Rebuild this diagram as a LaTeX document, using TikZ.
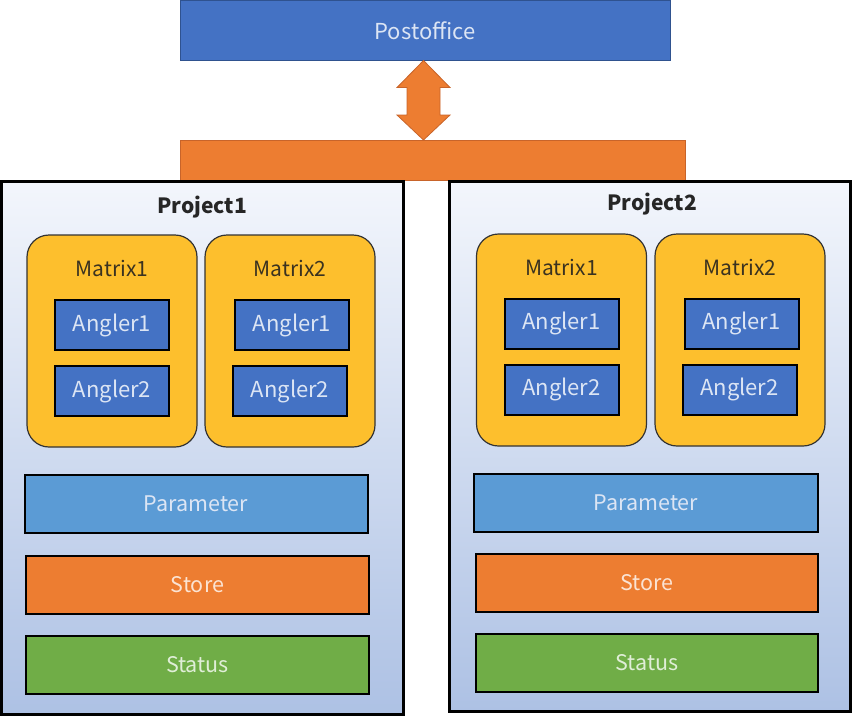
\documentclass[tikz,border=0pt]{standalone}
\usepackage{fontspec}
\setmainfont{Noto Sans CJK SC}
\usetikzlibrary{calc}
\definecolor{poblue}{HTML}{4472C4}
\definecolor{poborder}{HTML}{2F528F}
\definecolor{orng}{HTML}{ED7D31}
\definecolor{orngdark}{HTML}{C8642A}
\definecolor{gold}{HTML}{FDBF2D}
\definecolor{parblue}{HTML}{5B9BD5}
\definecolor{grn}{HTML}{70AD47}
\definecolor{projtop}{HTML}{F3F6FC}
\definecolor{projmid}{HTML}{C6D4EC}
\definecolor{projbot}{HTML}{ADC1E4}
\definecolor{txtblue}{HTML}{DCE5F4}
\definecolor{txtorng}{HTML}{FBE3D3}
\definecolor{txtgrn}{HTML}{E0EED7}
\definecolor{mattxt}{HTML}{3A3220}
\tikzset{
  every node/.style={inner sep=0pt, outer sep=0pt, font=\fontsize{21.5}{24}\selectfont},
  project/.style={draw=black, line width=3pt, top color=projtop, middle color=projmid, bottom color=projbot, anchor=north west},
  matrixbox/.style={draw=black!80, line width=1.2pt, fill=gold, rounded corners=22pt, minimum width=170pt, minimum height=212pt},
  anglerbox/.style={draw=black, line width=2pt, fill=poblue, text=txtblue, minimum width=114pt, minimum height=50pt, font=\fontsize{22}{24}\selectfont},
  layerbox/.style={draw=black, line width=2pt, minimum width=343pt, minimum height=58pt},
  mlabel/.style={text=mattxt, font=\fontsize{21}{24}\selectfont},
  ptitle/.style={font=\fontsize{21}{24}\selectfont\bfseries, text=black!85}
}
\begin{document}
\begin{tikzpicture}[x=1pt, y=-1pt]
\useasboundingbox (0,0) rectangle (856,718);

% Postoffice and bar
\node[draw=poborder, line width=1pt, fill=poblue, text=txtblue, minimum width=490pt, minimum height=60pt, font=\fontsize{22}{24}\selectfont] (post) at (425,30.5) {Postoffice};
\node[draw=orngdark, line width=1pt, fill=orng, minimum width=505pt, minimum height=40pt] (bar) at (432.5,160) {};

% double arrow between post and bar
\coordinate (at) at (post.south -| 423.5,0);
\coordinate (ab) at (bar.north -| 423.5,0);
\draw[draw=orngdark, line width=0.8pt, fill=orng]
  (at) -- ($(at)+(26.5,27)$) -- ($(at)+(16.5,27)$) -- ($(ab)+(16.5,-25)$) -- ($(ab)+(26.5,-25)$) -- (ab)
  -- ($(ab)+(-26.5,-25)$) -- ($(ab)+(-16.5,-25)$) -- ($(at)+(-16.5,27)$) -- ($(at)+(-26.5,27)$) -- cycle;

% Project 1
\node[project, minimum width=402pt, minimum height=533pt] (p1) at (1.5,181.5) {};
\node[ptitle] (p1t) at (202,207) {Project1};
\node[matrixbox] (p1m1) at (112,341) {};
\node[mlabel] (p1m1t) at (112,268) {Matrix1};
\node[anglerbox] (p1m1a1) at (112,325) {Angler1};
\node[anglerbox] (p1m1a2) at (112,391) {Angler2};
\node[matrixbox] (p1m2) at (290,341) {};
\node[mlabel] (p1m2t) at (290,268) {Matrix2};
\node[anglerbox] (p1m2a1) at (292,325) {Angler1};
\node[anglerbox] (p1m2a2) at (290,391) {Angler2};
\node[layerbox, fill=parblue, text=txtblue] (p1par) at (196,503.5) {Parameter};
\node[layerbox, fill=orng, text=txtorng] (p1sto) at (197.5,584.5) {Store};
\node[layerbox, fill=grn, text=txtgrn] (p1sta) at (197.5,665) {Status};

% Project 2
\node[project, minimum width=401pt, minimum height=530pt] (p2) at (449.5,181.5) {};
\node[ptitle] (p2t) at (652,204) {Project2};
\node[matrixbox] (p2m1) at (561.5,340) {};
\node[mlabel] (p2m1t) at (561.5,267) {Matrix1};
\node[anglerbox] (p2m1a1) at (561.5,323.5) {Angler1};
\node[anglerbox] (p2m1a2) at (561.5,389.5) {Angler2};
\node[matrixbox] (p2m2) at (740,340) {};
\node[mlabel] (p2m2t) at (740,267) {Matrix2};
\node[anglerbox] (p2m2a1) at (741.5,323.5) {Angler1};
\node[anglerbox] (p2m2a2) at (739.5,389.5) {Angler2};
\node[layerbox, fill=parblue, text=txtblue, minimum width=344pt] (p2par) at (646,503) {Parameter};
\node[layerbox, fill=orng, text=txtorng, minimum width=342pt] (p2sto) at (647,583) {Store};
\node[layerbox, fill=grn, text=txtgrn, minimum width=342pt] (p2sta) at (647,663) {Status};
\end{tikzpicture}
\end{document}
